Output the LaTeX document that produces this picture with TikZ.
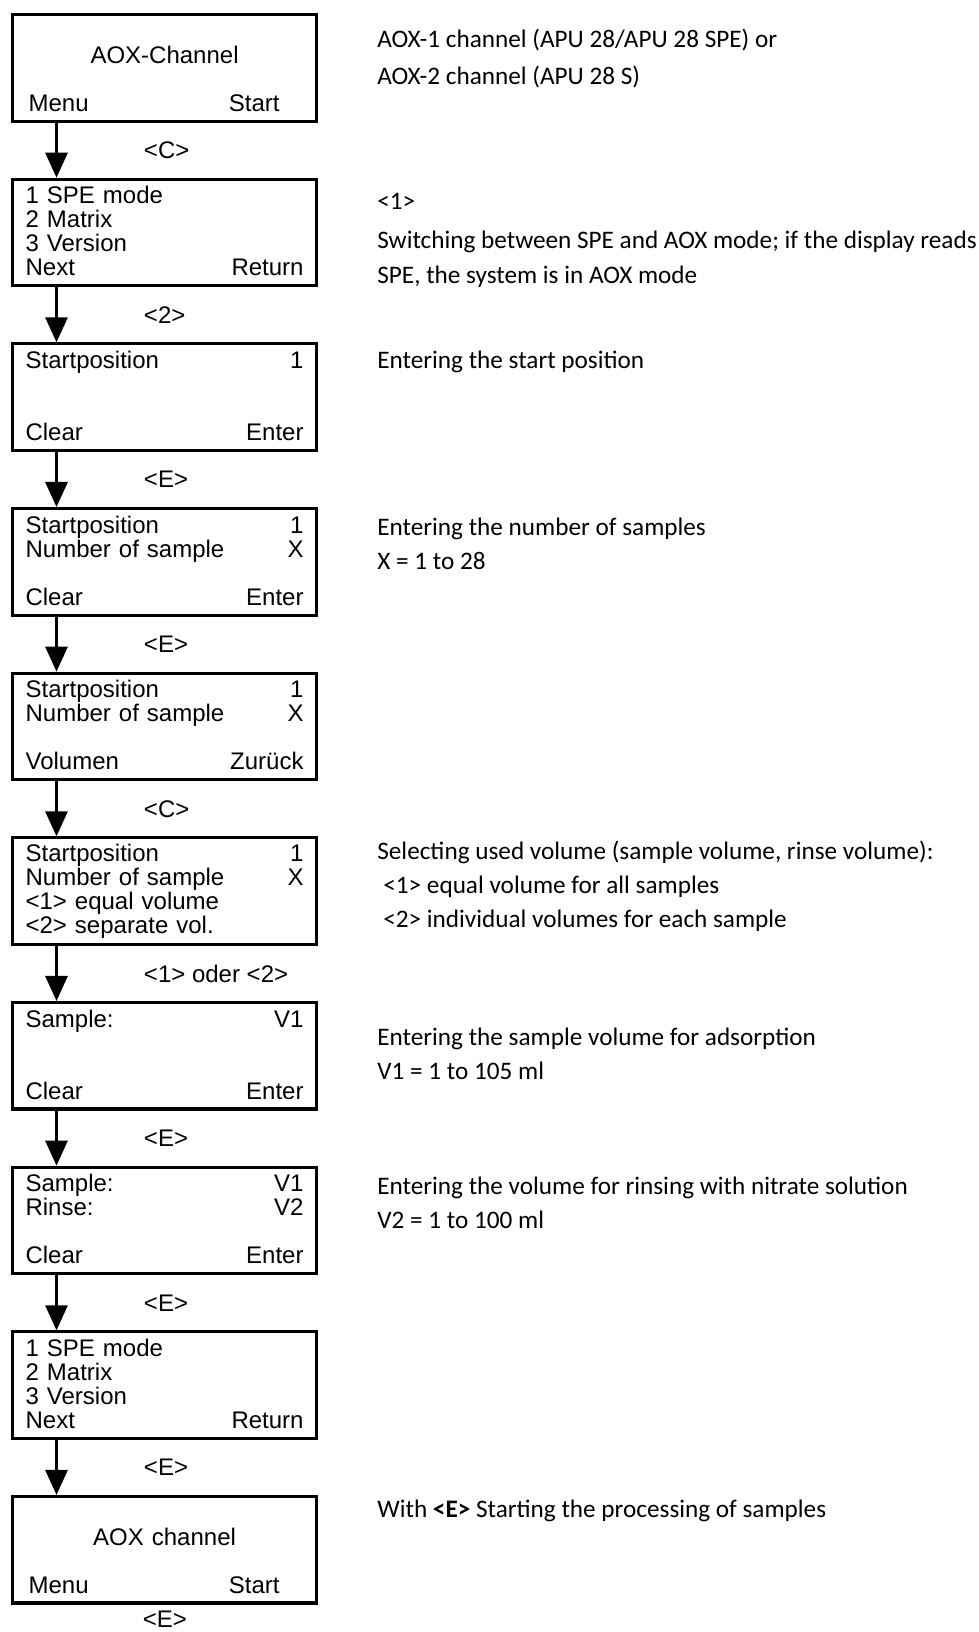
\documentclass[tikz,border=0pt]{standalone}
\usepackage{fontspec}
\usepackage{tikz}
\usetikzlibrary{arrows.meta, positioning}
\newfontfamily\lcdsans{Liberation Sans}
\newfontfamily\notesans{Carlito}
\newcommand{\lcdfont}{\lcdsans\fontsize{13.66}{13.66}\selectfont}
\newcommand{\notefont}{\notesans\fontsize{14.35}{19.35}\selectfont}
\newcommand{\capstrut}{\rule{0pt}{0.72em}}

\begin{document}
\begin{tikzpicture}[
  lcd/.style={draw, line width=1.8pt, minimum width=6.08cm, minimum height=2.13cm,
    text width=5.56cm, inner xsep=0.26cm, align=left, font=\lcdfont,
    execute at begin node=\capstrut, execute at end node=\rule[-0.12em]{0pt}{0pt}},
  flow/.style={-{Triangle[width=0.44cm, length=0.5cm]}, line width=1.7pt},
  keylbl/.style={midway, anchor=west, xshift=1.72cm, inner sep=0pt, font=\lcdfont},
  note/.style={anchor=west, inner sep=0pt, align=left, font=\notefont},
]
  \useasboundingbox (0,0) rectangle (19.58,-32.64);

  % display screens
  \node[lcd, anchor=north west] at (0.22,-0.26) (d1)
    {\\ \hspace*{\fill}AOX-Channel\hspace*{\fill}\hspace*{0.2cm}\\ \mbox{}\\ \hspace*{0.06cm}Menu\hfill Start\hspace*{0.48cm}};
  \node[lcd, below=1.1cm of d1] (d2)
    {1 SPE mode\\ 2 Matrix\\ 3 Version\\ Next\hfill Return};
  \node[lcd, below=1.1cm of d2] (d3)
    {Startposition\hfill 1\\ \mbox{}\\ \mbox{}\\ Clear\hfill Enter};
  \node[lcd, below=1.1cm of d3] (d4)
    {Startposition\hfill 1\\ Number of sample\hfill X\\ \mbox{}\\ Clear\hfill Enter};
  \node[lcd, below=1.1cm of d4] (d5)
    {Startposition\hfill 1\\ Number of sample\hfill X\\ \mbox{}\\ Volumen\hfill Zurück};
  \node[lcd, below=1.1cm of d5] (d6)
    {Startposition\hfill 1\\ Number of sample\hfill X\\ <1> equal volume\\ <2> separate vol.};
  \node[lcd, below=1.1cm of d6] (d7)
    {Sample:\hfill V1\\ \mbox{}\\ \mbox{}\\ Clear\hfill Enter};
  \node[lcd, below=1.1cm of d7] (d8)
    {Sample:\hfill V1\\ Rinse:\hfill V2\\ \mbox{}\\ Clear\hfill Enter};
  \node[lcd, below=1.1cm of d8] (d9)
    {1 SPE mode\\ 2 Matrix\\ 3 Version\\ Next\hfill Return};
  \node[lcd, below=1.1cm of d9] (d10)
    {\\ \hspace*{\fill}AOX channel\hspace*{\fill}\hspace*{0.2cm}\\ \mbox{}\\ \hspace*{0.06cm}Menu\hfill Start\hspace*{0.48cm}};

  % key presses
  \draw[flow] ([xshift=0.91cm]d1.south west) -- node[keylbl] {<C>} ([xshift=0.91cm]d2.north west);
  \draw[flow] ([xshift=0.91cm]d2.south west) -- node[keylbl] {<2>} ([xshift=0.91cm]d3.north west);
  \draw[flow] ([xshift=0.91cm]d3.south west) -- node[keylbl] {<E>} ([xshift=0.91cm]d4.north west);
  \draw[flow] ([xshift=0.91cm]d4.south west) -- node[keylbl] {<E>} ([xshift=0.91cm]d5.north west);
  \draw[flow] ([xshift=0.91cm]d5.south west) -- node[keylbl] {<C>} ([xshift=0.91cm]d6.north west);
  \draw[flow] ([xshift=0.91cm]d6.south west) -- node[keylbl] {<1> oder <2>} ([xshift=0.91cm]d7.north west);
  \draw[flow] ([xshift=0.91cm]d7.south west) -- node[keylbl] {<E>} ([xshift=0.91cm]d8.north west);
  \draw[flow] ([xshift=0.91cm]d8.south west) -- node[keylbl] {<E>} ([xshift=0.91cm]d9.north west);
  \draw[flow] ([xshift=0.91cm]d9.south west) -- node[keylbl] {<E>} ([xshift=0.91cm]d10.north west);
  \node[anchor=west, inner sep=0pt, font=\lcdfont] at ([xshift=2.63cm, yshift=-0.3cm]d10.south west) (kend) {<E>};

  % explanations
  \node[note] at (7.54,-1.17) (n1) {AOX-1 channel (APU 28/APU 28 SPE) or\\[0.06cm] AOX-2 channel (APU 28 S)};
  \node[note] at (7.54,-4.80) (n2) {<1>\\[0.1cm] Switching between SPE and AOX mode; if the display reads\\[0.02cm] SPE, the system is in AOX mode};
  \node[note] at (7.54,-7.24) (n3) {Entering the start position};
  \node[note] at (7.54,-10.87) (n4) {Entering the number of samples\\ X = 1 to 28};
  \node[note] at (7.54,-17.72) (n5) {Selecting used volume (sample volume, rinse volume):\\ \hspace*{0.12cm}<1> equal volume for all samples\\ \hspace*{0.12cm}<2> individual volumes for each sample};
  \node[note] at (7.54,-21.07) (n6) {Entering the sample volume for adsorption\\ V1 = 1 to 105 ml};
  \node[note] at (7.54,-24.05) (n7) {Entering the volume for rinsing with nitrate solution\\ V2 = 1 to 100 ml};
  \node[note] at (7.54,-30.22) (n8) {With \textbf{<E>} Starting the processing of samples};
\end{tikzpicture}
\end{document}
